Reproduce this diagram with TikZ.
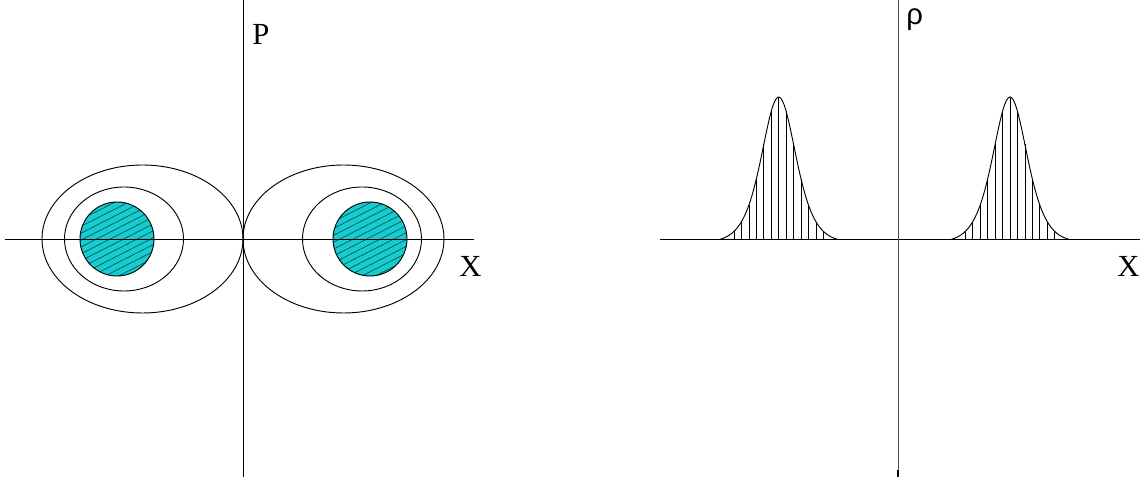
\documentclass[tikz,border=0pt]{standalone}
\usepackage{fontspec}
\setmainfont{Liberation Serif}
\newfontfamily\greekfont{Liberation Sans}
\usetikzlibrary{positioning, patterns.meta}

\definecolor{corefill}{RGB}{22,204,206}
\definecolor{corehatch}{RGB}{10,70,75}

\begin{document}
\begin{tikzpicture}[
    x=0.75pt, y=0.75pt,        % 1単位 = 画像の1ピクセル
    line width=0.7pt,
    axis/.style={black},
    orbit/.style={black},
    core/.style={pattern={Lines[angle=27, distance=4.6pt, line width=0.45pt]},
                 pattern color=corehatch},
    hatchline/.style={black, line width=0.6pt},
    lbl/.style={font=\fontsize{23}{23}\selectfont, inner sep=0pt},
    declare function={rhoprof(\x)=142*(1/cosh(\x/23)^2-0.0265)/(1-0.0265);}
]
    \useasboundingbox (-243,-242) rectangle (897,239);

    % --- 1. 左図：位相空間 ---
    \draw [axis] (-238, 0) -- (231, 0) coordinate (xendL);
    \draw [axis] (0, 239) coordinate (ptop) -- (0, -238);

    % 外側と中間の軌道（原点で接する）
    \draw [orbit] (-100.5, 0) ellipse [x radius=100.5, y radius=74];
    \draw [orbit] ( 100.5, 0) ellipse [x radius=100.5, y radius=74];
    \draw [orbit] (-119, 0) ellipse [x radius=59.5, y radius=52];
    \draw [orbit] ( 119, 0) ellipse [x radius=59.5, y radius=52];

    % 斜線入りの円
    \foreach \cx in {-126, 127} {
        \fill [corefill] (\cx, 0) circle [radius=37];
        \path [core] (\cx, 0) circle [radius=37];
        \draw [orbit] (\cx, 0) circle [radius=37];
    }
    \draw [axis] (-238, 0) -- (231, 0);

    % ラベル
    \node [lbl, anchor=north west] (labelP) at (9, 215) {P};
    \node [lbl, anchor=north west] (labelXL) at (216, -17) {X};

    % --- 2. 右図：密度分布 ---
    \begin{scope}[xshift=491.25pt]
        \draw [axis] (-238, 0) -- (242, 0) coordinate (xendR);
        \draw [axis, black!70] (0, 239) coordinate (rtop) -- (0, -238) coordinate (rbot);
        \draw [axis, line width=1pt] (0, -231) -- (rbot);

        % 2つの山と縦線
        \foreach \pc in {-119.3, 112} {
            \foreach \k in {-6,...,6} {
                \draw [hatchline] ({\pc+\k*7.45}, 0) -- ({\pc+\k*7.45}, {rhoprof(\k*7.45)});
            }
            \draw [black, line width=0.7pt, smooth, samples=80, domain=-59:59]
                plot ({\pc+\x}, {rhoprof(\x)});
        }

        % ラベル
        \node [lbl, anchor=north west, font=\greekfont\fontsize{22}{22}\selectfont]
            (labelrho) at (8, 231) {ρ};
        \node [lbl, anchor=north west] (labelXR) at (219, -17) {X};
    \end{scope}

\end{tikzpicture}
\end{document}
